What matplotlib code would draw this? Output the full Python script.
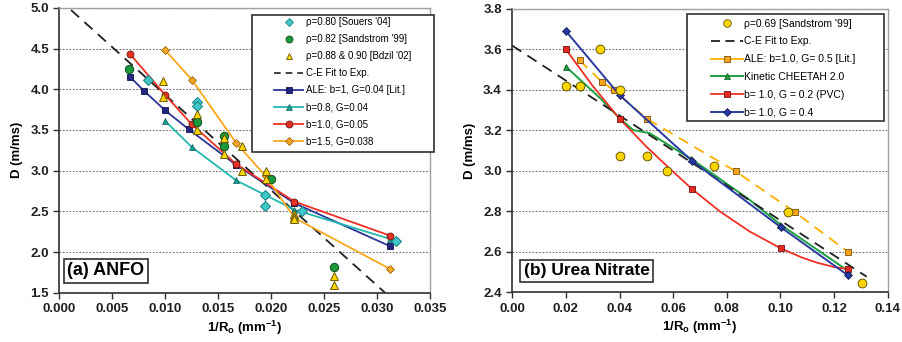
import matplotlib
matplotlib.use("Agg")
import matplotlib.pyplot as plt
from matplotlib.lines import Line2D
from matplotlib.patches import Rectangle

plt.rcParams['font.family'] = ['Liberation Sans', 'DejaVu Sans']
plt.rcParams['mathtext.fontset'] = 'custom'
plt.rcParams['mathtext.rm'] = 'Liberation Sans:bold'
plt.rcParams['mathtext.default'] = 'rm'

# ---------------- (a) ANFO data ----------------
souers_x = [0.00835, 0.0130, 0.0130, 0.0194, 0.0194, 0.0229, 0.0318]
souers_y = [4.12, 3.85, 3.80, 2.70, 2.57, 2.50, 2.14]
sand82_x = [0.0066, 0.0130, 0.01555, 0.01555, 0.0200, 0.0259]
sand82_y = [4.25, 3.60, 3.43, 3.30, 2.90, 1.81]
bdzil_x = [0.0098, 0.0098, 0.0130, 0.0130, 0.01555, 0.01555, 0.01725, 0.01725,
           0.0195, 0.0195, 0.0222, 0.0222, 0.0222, 0.0259, 0.0259]
bdzil_y = [4.10, 3.90, 3.70, 3.50, 3.40, 3.20, 3.30, 3.00,
           3.00, 2.90, 2.47, 2.43, 2.40, 1.70, 1.60]
ce_a_x = [0.0011, 0.03075]
ce_a_y = [4.975, 1.50]
ale_a_x = [0.0067, 0.0080, 0.0100, 0.0122, 0.0167, 0.0222, 0.03125]
ale_a_y = [4.15, 3.98, 3.74, 3.51, 3.07, 2.60, 2.07]
b08_x = [0.0100, 0.0125, 0.0167, 0.0222, 0.03125]
b08_y = [3.61, 3.29, 2.88, 2.52, 2.16]
b10_x = [0.0067, 0.0100, 0.0125, 0.0167, 0.0222, 0.03125]
b10_y = [4.43, 3.93, 3.57, 3.08, 2.62, 2.20]
b15_x = [0.0100, 0.0125, 0.0167, 0.0195, 0.0222, 0.03125]
b15_y = [4.48, 4.12, 3.34, 2.93, 2.42, 1.79]

# ---------------- (b) Urea Nitrate data ----------------
sand69_x = [0.0200, 0.0251, 0.0328, 0.0402, 0.0402, 0.0502, 0.0578, 0.0753, 0.1028, 0.1305]
sand69_y = [3.42, 3.42, 3.60, 3.40, 3.075, 3.075, 3.00, 3.025, 2.797, 2.448]
ce_b_x = [0.0, 0.1322]
ce_b_y = [3.619, 2.477]
ale_b_x = [0.0251, 0.0334, 0.0378, 0.0501, 0.0833, 0.1053, 0.1252]
ale_b_y = [3.546, 3.44, 3.40, 3.258, 2.998, 2.797, 2.60]
chee_x = [0.020, 0.0327, 0.040, 0.0451, 0.0513, 0.0613, 0.0667, 0.0886, 0.100, 0.1247]
chee_y = [3.515, 3.36, 3.26, 3.202, 3.186, 3.103, 3.06, 2.856, 2.735, 2.511]
chee_marks = [0, 2, 6, 8, 9]
pvc_x = [0.020, 0.030, 0.040, 0.050, 0.0576, 0.0669, 0.0774, 0.0886, 0.1002, 0.108, 0.1135, 0.120, 0.1252]
pvc_y = [3.60, 3.42, 3.258, 3.12, 3.025, 2.912, 2.80, 2.70, 2.617, 2.572, 2.547, 2.525, 2.514]
pvc_marks = [0, 2, 5, 8, 12]
g04_x = [0.020, 0.040, 0.0669, 0.1002, 0.1252]
g04_y = [3.691, 3.375, 3.051, 2.721, 2.484]

fig = plt.figure(figsize=(9.03, 3.42), dpi=100)
ax1 = fig.add_axes([0.0657, 0.1442, 0.4105, 0.8325])
ax2 = fig.add_axes([0.5673, 0.1453, 0.4157, 0.8284])

def style_axes(ax):
    ax.grid(axis='y', linestyle=(0, (1.5, 1.5)), color='#707070', lw=0.8)
    ax.set_axisbelow(True)
    for s in ['top', 'right']:
        ax.spines[s].set_color('#a0a0a0')
        ax.spines[s].set_linewidth(1.0)
    for s in ['left', 'bottom']:
        ax.spines[s].set_color('#303030')
        ax.spines[s].set_linewidth(1.2)
    ax.tick_params(direction='out', length=4, width=1, color='#303030', labelsize=9.5)
    for lab in ax.get_xticklabels() + ax.get_yticklabels():
        lab.set_fontweight('bold')
        lab.set_color('#202020')

# ---- panel (a)
ax = ax1
ax.plot(ce_a_x, ce_a_y, color='#202020', lw=1.3, dashes=(6, 4), zorder=2)
ax.plot(ale_a_x, ale_a_y, color='#2b3595', lw=1.3, marker='s', ms=4.5, mfc='#22267f', mec='#101050', mew=0.6, zorder=3)
ax.plot(b08_x, b08_y, color='#20b8b0', lw=1.3, marker='^', ms=4, mfc='#1a9f98', mec='#0e5f5a', mew=0.5, zorder=3)
ax.plot(b10_x, b10_y, color='#ee3026', lw=1.3, marker='o', ms=5, mfc='#e53323', mec='#701010', mew=0.6, zorder=3)
ax.plot(b15_x, b15_y, color='#f8a81c', lw=1.3, marker='D', ms=3.8, mfc='#f5a623', mec='#8a5a00', mew=0.5, zorder=3)
ax.plot(souers_x, souers_y, ls='none', marker='D', ms=5, mfc='#40c8c8', mec='#1a8080', mew=0.7, zorder=4)
ax.plot(sand82_x, sand82_y, ls='none', marker='o', ms=6, mfc='#1a9a3a', mec='#0d4d1d', mew=0.7, zorder=4)
ax.plot(bdzil_x, bdzil_y, ls='none', marker='^', ms=6.3, mfc='#ffd500', mec='#6a5a00', mew=0.7, zorder=4)

ax.set_xlim(0, 0.035)
ax.set_ylim(1.5, 5.0)
ax.set_xticks([0.000, 0.005, 0.010, 0.015, 0.020, 0.025, 0.030, 0.035])
ax.set_xticklabels(['0.000', '0.005', '0.010', '0.015', '0.020', '0.025', '0.030', '0.035'])
ax.set_yticks([1.5, 2.0, 2.5, 3.0, 3.5, 4.0, 4.5, 5.0])
ax.set_yticklabels(['1.5', '2.0', '2.5', '3.0', '3.5', '4.0', '4.5', '5.0'])
style_axes(ax)
ax.set_xlabel(r'1/R$_\mathregular{o}$ (mm$^{-1}$)', fontsize=9.5, fontweight='bold', labelpad=3)
ax.set_ylabel('D (m/ms)', fontsize=9.5, fontweight='bold', labelpad=5)

handles_a = [
    Line2D([], [], ls='none', marker='D', ms=4, mfc='#40c8c8', mec='#1a8080', mew=0.6),
    Line2D([], [], ls='none', marker='o', ms=5, mfc='#1a9a3a', mec='#0d4d1d', mew=0.6),
    Line2D([], [], ls='none', marker='^', ms=5, mfc='#ffd500', mec='#6a5a00', mew=0.6),
    Line2D([], [], color='#202020', lw=1.2, dashes=(4, 3)),
    Line2D([], [], color='#2b3595', lw=1.3, marker='s', ms=4.5, mfc='#22267f', mec='#101050', mew=0.6),
    Line2D([], [], color='#20b8b0', lw=1.3, marker='^', ms=4, mfc='#1a9f98', mec='#0e5f5a', mew=0.5),
    Line2D([], [], color='#ee3026', lw=1.3, marker='o', ms=5, mfc='#e53323', mec='#701010', mew=0.6),
    Line2D([], [], color='#f8a81c', lw=1.3, marker='D', ms=3.8, mfc='#f5a623', mec='#8a5a00', mew=0.5),
]
labels_a = ["ρ=0.80 [Souers '04]", "ρ=0.82 [Sandstrom '99]", "ρ=0.88 & 0.90 [Bdzil '02]",
            "C-E Fit to Exp.", "ALE: b=1, G=0.04 [Lit.]", "b=0.8, G=0.04",
            "b=1.0, G=0.05", "b=1.5, G=0.038"]
ax.add_patch(Rectangle((0.520, 0.494), 0.491, 0.481, transform=ax.transAxes, fc='white',
                       ec='#303030', lw=1.2, zorder=5, clip_on=False))
leg = ax.legend(handles_a, labels_a, loc='upper left', bbox_to_anchor=(0.579, 0.968),
                frameon=False, fontsize=7, handlelength=3.0, handletextpad=0.3,
                labelspacing=0.72, borderpad=0, borderaxespad=0)
leg.set_zorder(6)
ax.text(0.022, 0.047, '(a) ANFO', transform=ax.transAxes, fontsize=13, fontweight='bold',
        ha='left', va='bottom', zorder=6,
        bbox=dict(boxstyle='square,pad=0.2', fc='white', ec='#303030', lw=1.2))

# ---- panel (b)
ax = ax2
ax.plot(ale_b_x, ale_b_y, color='#ffb000', lw=1.3, dashes=(6, 4), marker='s', ms=4.5,
        mfc='#f8a51c', mec='#7a4a00', mew=0.6, zorder=3)
ax.plot(chee_x, chee_y, color='#1aa040', lw=1.4, marker='^', ms=4.5, markevery=chee_marks,
        mfc='#1a9f3a', mec='#0d4d1d', mew=0.5, zorder=3)
ax.plot(ce_b_x, ce_b_y, color='#202020', lw=1.3, dashes=(6, 4), zorder=3)
ax.plot(pvc_x, pvc_y, color='#ee3026', lw=1.3, marker='s', ms=4.5, markevery=pvc_marks,
        mfc='#e52a20', mec='#701010', mew=0.6, zorder=3)
ax.plot(g04_x, g04_y, color='#2a3aa0', lw=1.4, marker='D', ms=3.8, mfc='#2438a0', mec='#101050',
        mew=0.5, zorder=3)
ax.plot(sand69_x, sand69_y, ls='none', marker='o', ms=6.3, mfc='#ffd500', mec='#6a5a00', mew=0.7,
        zorder=4)

ax.set_xlim(0, 0.14)
ax.set_ylim(2.4, 3.8)
ax.set_xticks([0.00, 0.02, 0.04, 0.06, 0.08, 0.10, 0.12, 0.14])
ax.set_xticklabels(['0.00', '0.02', '0.04', '0.06', '0.08', '0.10', '0.12', '0.14'])
ax.set_yticks([2.4, 2.6, 2.8, 3.0, 3.2, 3.4, 3.6, 3.8])
ax.set_yticklabels(['2.4', '2.6', '2.8', '3.0', '3.2', '3.4', '3.6', '3.8'])
style_axes(ax)
ax.set_xlabel(r'1/R$_\mathregular{o}$ (mm$^{-1}$)', fontsize=9.5, fontweight='bold', labelpad=2)
ax.set_ylabel('D (m/ms)', fontsize=9.5, fontweight='bold', labelpad=5)

handles_b = [
    Line2D([], [], ls='none', marker='o', ms=5.5, mfc='#ffd500', mec='#6a5a00', mew=0.6),
    Line2D([], [], color='#202020', lw=1.3, dashes=(5, 3)),
    Line2D([], [], color='#ffb000', lw=1.3, marker='s', ms=4.5, mfc='#f8a51c', mec='#7a4a00', mew=0.6),
    Line2D([], [], color='#1aa040', lw=1.4, marker='^', ms=4.5, mfc='#1a9f3a', mec='#0d4d1d', mew=0.5),
    Line2D([], [], color='#ee3026', lw=1.3, marker='s', ms=4.5, mfc='#e52a20', mec='#701010', mew=0.6),
    Line2D([], [], color='#2a3aa0', lw=1.4, marker='D', ms=3.8, mfc='#2438a0', mec='#101050', mew=0.5),
]
labels_b = ["ρ=0.69 [Sandstrom '99]", "C-E Fit to Exp.", "ALE: b=1.0, G= 0.5 [Lit.]",
            "Kinetic CHEETAH 2.0", "b= 1.0, G = 0.2 (PVC)", "b= 1.0, G = 0.4"]
ax.add_patch(Rectangle((0.466, 0.606), 0.525, 0.376, transform=ax.transAxes, fc='white',
                       ec='#303030', lw=1.2, zorder=5, clip_on=False))
leg = ax.legend(handles_b, labels_b, loc='upper left', bbox_to_anchor=(0.529, 0.966),
                frameon=False, fontsize=7.5, handlelength=3.1, handletextpad=0.1,
                labelspacing=0.75, borderpad=0, borderaxespad=0)
leg.set_zorder(6)
ax.text(0.03, 0.05, '(b) Urea Nitrate', transform=ax.transAxes, fontsize=12.5, fontweight='bold',
        ha='left', va='bottom', zorder=6,
        bbox=dict(boxstyle='square,pad=0.2', fc='white', ec='#303030', lw=1.2))

fig.savefig('out.png', dpi=100)
